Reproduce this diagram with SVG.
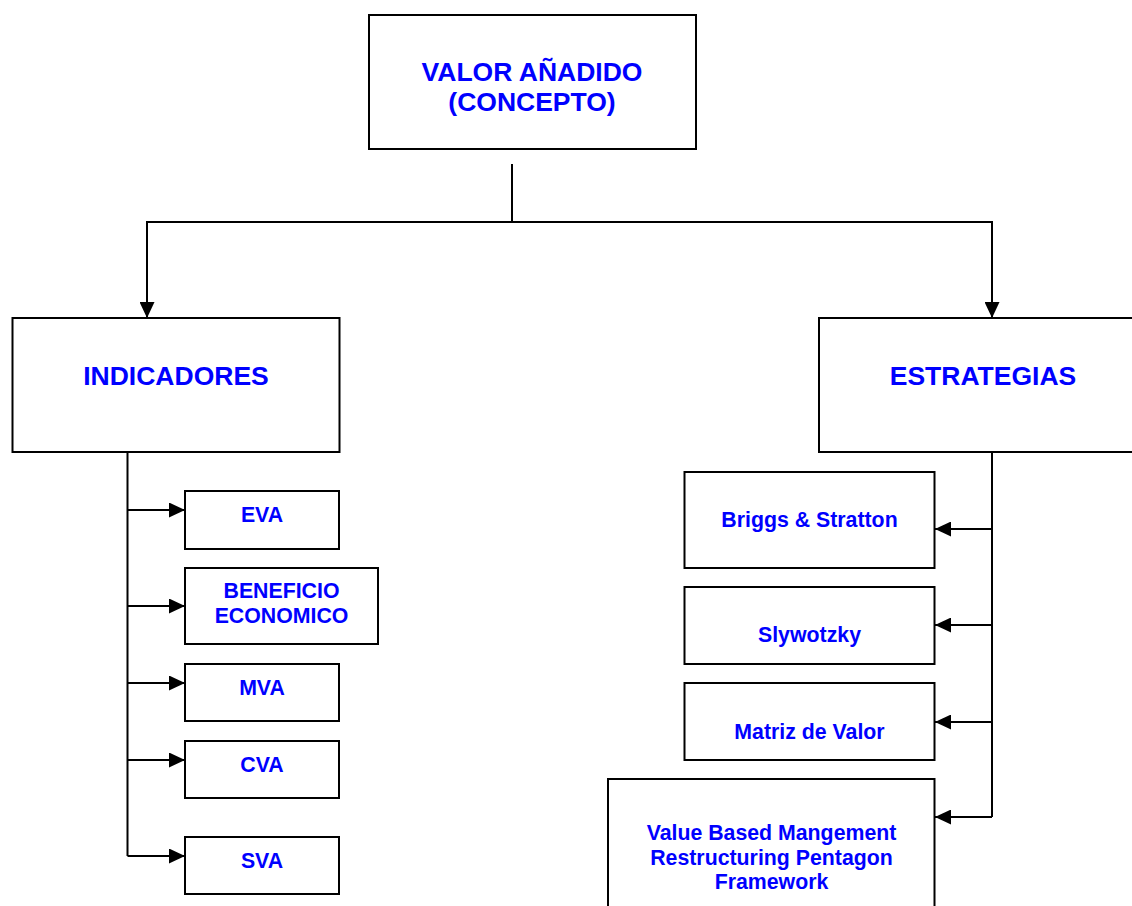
<svg xmlns="http://www.w3.org/2000/svg" width="1132" height="906" viewBox="0 0 1132 906">
  <style>
    .box { fill: #ffffff; stroke: #000000; stroke-width: 2; }
    .lbl { fill: #0000ff; font-family: "Liberation Sans", Arial, sans-serif; font-weight: bold; text-anchor: middle; }
    .big { font-size: 26.5px; }
    .small { font-size: 21.3px; }
    .conn { fill: none; stroke: #000000; stroke-width: 2; }
    .arrow { marker-end: url(#head); }
  </style>
  <defs>
    <marker id="head" viewBox="0 0 16 15" refX="16" refY="7.5" markerWidth="16" markerHeight="15" orient="auto" markerUnits="userSpaceOnUse">
      <path d="M0,0 L16,7.5 L0,15 z" fill="#000000"/>
    </marker>
  </defs>
  <rect width="1132" height="906" fill="#ffffff"/>

  <!-- connectors -->
  <g id="connectors">
    <path class="conn arrow" d="M512,164 V222 H147 V318"/>
    <path class="conn arrow" d="M512,222 H992 V318"/>
    <!-- indicator trunk and branches -->
    <path class="conn" d="M127.5,452 V856"/>
    <path class="conn arrow" d="M127.5,510 H185"/>
    <path class="conn arrow" d="M127.5,606 H185"/>
    <path class="conn arrow" d="M127.5,683 H185"/>
    <path class="conn arrow" d="M127.5,760 H185"/>
    <path class="conn arrow" d="M127.5,856 H185"/>
    <!-- strategy trunk and branches -->
    <path class="conn" d="M992,452 V817"/>
    <path class="conn arrow" d="M992,529 H935"/>
    <path class="conn arrow" d="M992,625 H935"/>
    <path class="conn arrow" d="M992,722 H935"/>
    <path class="conn arrow" d="M992,817 H935"/>
  </g>

  <g id="valor-anadido">
    <rect class="box" x="369" y="15" width="327" height="134"/>
    <text class="lbl big" x="532" y="81">VALOR AÑADIDO</text>
    <text class="lbl big" x="532" y="111">(CONCEPTO)</text>
  </g>

  <g id="indicadores">
    <rect class="box" x="12.5" y="318" width="327" height="134"/>
    <text class="lbl big" x="176" y="385">INDICADORES</text>
  </g>

  <g id="estrategias">
    <rect class="box" x="819" y="318" width="327" height="134"/>
    <text class="lbl big" x="983" y="385">ESTRATEGIAS</text>
  </g>

  <g id="eva">
    <rect class="box" x="185" y="491" width="154" height="58"/>
    <text class="lbl small" x="262" y="522">EVA</text>
  </g>

  <g id="beneficio-economico">
    <rect class="box" x="185" y="568" width="193" height="76"/>
    <text class="lbl small" x="281.5" y="598">BENEFICIO</text>
    <text class="lbl small" x="281.5" y="622.5">ECONOMICO</text>
  </g>

  <g id="mva">
    <rect class="box" x="185" y="664" width="154" height="57"/>
    <text class="lbl small" x="262" y="695">MVA</text>
  </g>

  <g id="cva">
    <rect class="box" x="185" y="741" width="154" height="57"/>
    <text class="lbl small" x="262" y="772">CVA</text>
  </g>

  <g id="sva">
    <rect class="box" x="185" y="837" width="154" height="57"/>
    <text class="lbl small" x="262" y="868">SVA</text>
  </g>

  <g id="briggs-stratton">
    <rect class="box" x="684.5" y="472" width="250" height="96"/>
    <text class="lbl small" x="809.5" y="527">Briggs &amp; Stratton</text>
  </g>

  <g id="slywotzky">
    <rect class="box" x="684.5" y="587" width="250" height="77"/>
    <text class="lbl small" x="809.5" y="642">Slywotzky</text>
  </g>

  <g id="matriz-de-valor">
    <rect class="box" x="684.5" y="683" width="250" height="77"/>
    <text class="lbl small" x="809.5" y="738.5">Matriz de Valor</text>
  </g>

  <g id="value-based-management">
    <rect class="box" x="608" y="779" width="326.5" height="140"/>
    <text class="lbl small" x="771.5" y="839.5">Value Based Mangement</text>
    <text class="lbl small" x="771.5" y="864.5">Restructuring Pentagon</text>
    <text class="lbl small" x="771.5" y="889">Framework</text>
  </g>
</svg>
